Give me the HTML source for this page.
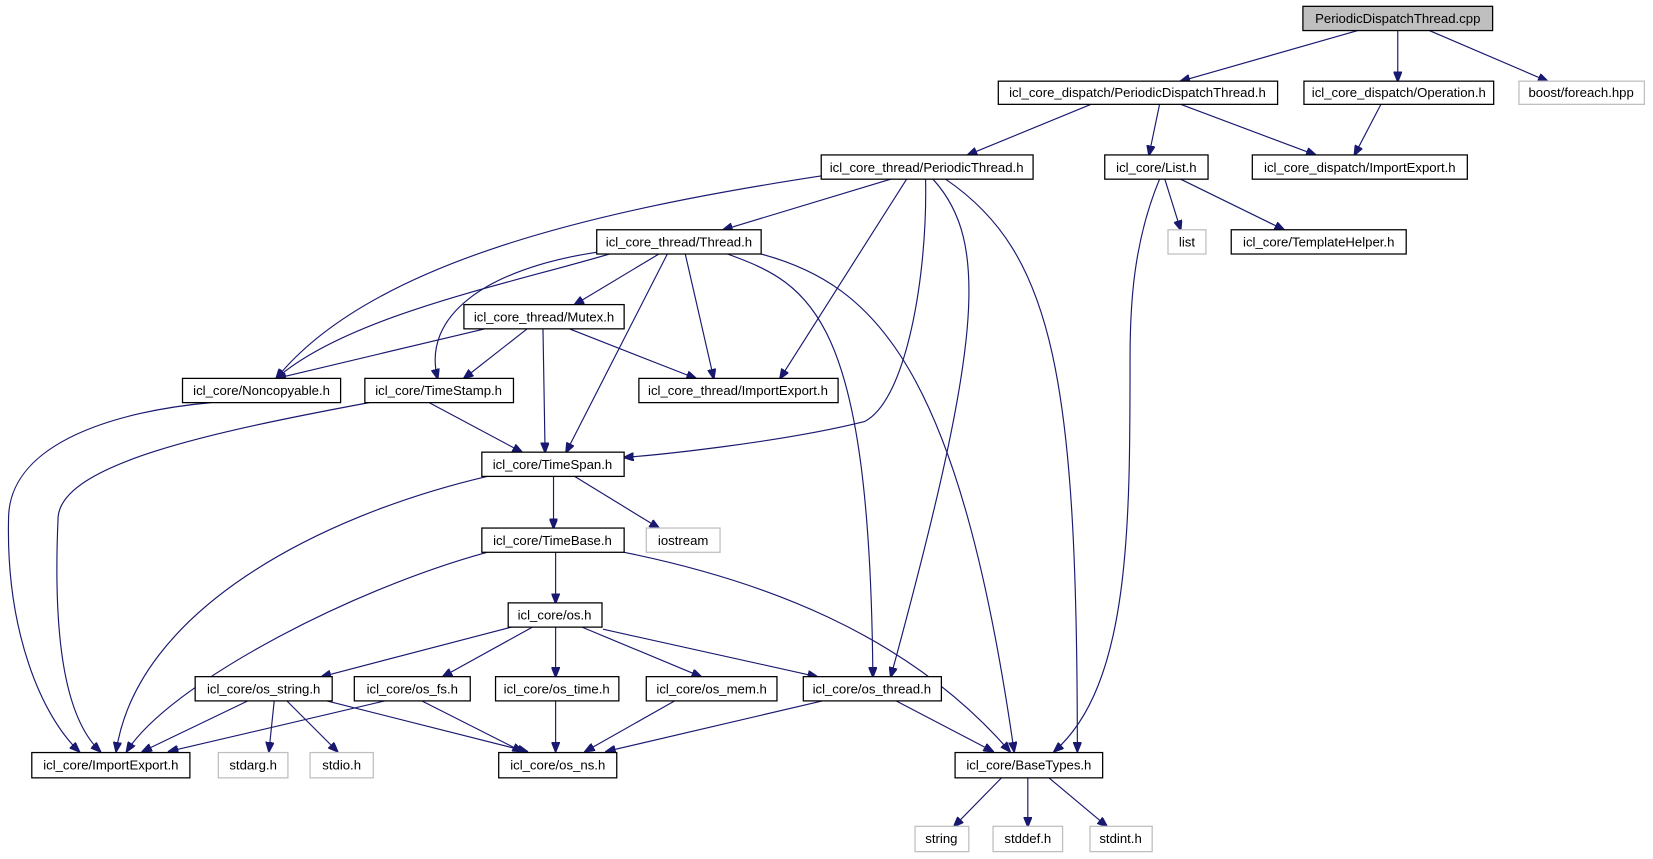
<!DOCTYPE html>
<html><head><meta charset="utf-8"><style>
html,body{margin:0;padding:0;background:#fff;}
svg{display:block}
text{font-family:"Liberation Sans",sans-serif;font-size:12.5px;fill:#000;text-anchor:middle}
.n{fill:#fff;stroke:#000;stroke-width:1.2}
.g{fill:#fff;stroke:#bfbfbf;stroke-width:1.2}
.e{fill:none;stroke:#191970;stroke-width:1.1;marker-end:url(#a)}
</style></head><body>
<svg width="1653" height="859" viewBox="0 0 1568 815" xmlns="http://www.w3.org/2000/svg">
<defs><marker id="a" markerWidth="10" markerHeight="8" refX="9" refY="4" orient="auto" markerUnits="userSpaceOnUse"><path d="M0,0 L10,4 L0,8 z" fill="#191970" stroke="#191970"/></marker></defs>
<!-- edges -->
<path class="e" d="M1288,29 L1120,77"/>
<path class="e" d="M1326,29 L1326,77"/>
<path class="e" d="M1356,29 L1468,77"/>
<path class="e" d="M1035,99 L918,147"/>
<path class="e" d="M1100,99 L1090,147"/>
<path class="e" d="M1120,99 L1248,147"/>
<path class="e" d="M1310,99 L1285,147"/>
<path class="e" d="M1105,170 L1120,218"/>
<path class="e" d="M1120,170 L1218,218"/>
<path class="e" d="M1100,170 C1075,230 1072,290 1072,340 C1072,500 1072,650 1000,713"/>
<path class="e" d="M845,170 L686,218"/>
<path class="e" d="M785,166 C560,200 350,250 262,359"/>
<path class="e" d="M860,170 L740,359"/>
<path class="e" d="M878,170 C880,260 860,380 820,400 C740,420 620,432 592,434"/>
<path class="e" d="M885,170 C940,230 930,330 845,642"/>
<path class="e" d="M897,170 C1000,240 1022,360 1022,713"/>
<path class="e" d="M578,241 C480,270 330,300 262,359"/>
<path class="e" d="M568,239 C460,255 400,300 415,359"/>
<path class="e" d="M625,241 L545,289"/>
<path class="e" d="M633,241 L537,429"/>
<path class="e" d="M650,241 L677,359"/>
<path class="e" d="M690,241 C770,270 825,300 828,642"/>
<path class="e" d="M722,241 C830,270 910,350 962,713"/>
<path class="e" d="M460,312 L262,359"/>
<path class="e" d="M500,312 L440,359"/>
<path class="e" d="M515,312 L517,429"/>
<path class="e" d="M540,312 L660,359"/>
<path class="e" d="M407,382 L495,429"/>
<path class="e" d="M350,382 C200,410 60,440 55,490 C50,600 60,680 95,713"/>
<path class="e" d="M200,382 C110,390 10,420 8,490 C5,600 40,680 75,713"/>
<path class="e" d="M525,452 L525,501"/>
<path class="e" d="M545,452 L625,501"/>
<path class="e" d="M462,452 C300,490 130,580 110,713"/>
<path class="e" d="M527,524 L527,572"/>
<path class="e" d="M462,524 C330,560 160,650 120,713"/>
<path class="e" d="M592,524 C720,550 860,600 958,713"/>
<path class="e" d="M485,595 L305,642"/>
<path class="e" d="M505,595 L420,642"/>
<path class="e" d="M527,595 L527,642"/>
<path class="e" d="M552,595 L665,642"/>
<path class="e" d="M572,597 L775,642"/>
<path class="e" d="M235,665 L135,713"/>
<path class="e" d="M260,665 L255,713"/>
<path class="e" d="M272,665 L320,713"/>
<path class="e" d="M310,665 L500,713"/>
<path class="e" d="M365,665 L160,713"/>
<path class="e" d="M400,665 L495,713"/>
<path class="e" d="M527,665 L527,713"/>
<path class="e" d="M640,665 L555,713"/>
<path class="e" d="M780,665 L575,713"/>
<path class="e" d="M850,665 L942,713"/>
<path class="e" d="M950,738 L905,784"/>
<path class="e" d="M975,738 L975,784"/>
<path class="e" d="M995,738 L1050,784"/>
<!-- nodes -->
<rect x="1236" y="6" width="180" height="23" fill="#bfbfbf" stroke="#000" stroke-width="1.2"/><text x="1326" y="22">PeriodicDispatchThread.cpp</text>
<rect class="n" x="947" y="77" width="265" height="22"/><text x="1079" y="92">icl_core_dispatch/PeriodicDispatchThread.h</text>
<rect class="n" x="1237" y="77" width="180" height="22"/><text x="1327" y="92">icl_core_dispatch/Operation.h</text>
<rect class="g" x="1441" y="77" width="119" height="22"/><text x="1500" y="92">boost/foreach.hpp</text>
<rect class="n" x="779" y="147" width="201" height="23"/><text x="879" y="163">icl_core_thread/PeriodicThread.h</text>
<rect class="n" x="1048" y="147" width="98" height="23"/><text x="1097" y="163">icl_core/List.h</text>
<rect class="n" x="1188" y="147" width="204" height="23"/><text x="1290" y="163">icl_core_dispatch/ImportExport.h</text>
<rect class="n" x="566" y="218" width="156" height="23"/><text x="644" y="234">icl_core_thread/Thread.h</text>
<rect class="g" x="1108" y="218" width="36" height="23"/><text x="1126" y="234">list</text>
<rect class="n" x="1168" y="218" width="166" height="23"/><text x="1251" y="234">icl_core/TemplateHelper.h</text>
<rect class="n" x="440" y="289" width="152" height="23"/><text x="516" y="305">icl_core_thread/Mutex.h</text>
<rect class="n" x="173" y="359" width="150" height="23"/><text x="248" y="375">icl_core/Noncopyable.h</text>
<rect class="n" x="346" y="359" width="141" height="23"/><text x="416" y="375">icl_core/TimeStamp.h</text>
<rect class="n" x="606" y="359" width="189" height="23"/><text x="700" y="375">icl_core_thread/ImportExport.h</text>
<rect class="n" x="457" y="429" width="135" height="23"/><text x="524" y="445">icl_core/TimeSpan.h</text>
<rect class="n" x="457" y="501" width="135" height="23"/><text x="524" y="517">icl_core/TimeBase.h</text>
<rect class="g" x="613" y="501" width="70" height="23"/><text x="648" y="517">iostream</text>
<rect class="n" x="482" y="572" width="89" height="23"/><text x="526" y="588">icl_core/os.h</text>
<rect class="n" x="185" y="642" width="130" height="23"/><text x="250" y="658">icl_core/os_string.h</text>
<rect class="n" x="336" y="642" width="110" height="23"/><text x="391" y="658">icl_core/os_fs.h</text>
<rect class="n" x="470" y="642" width="117" height="23"/><text x="528" y="658">icl_core/os_time.h</text>
<rect class="n" x="613" y="642" width="124" height="23"/><text x="675" y="658">icl_core/os_mem.h</text>
<rect class="n" x="762" y="642" width="131" height="23"/><text x="827" y="658">icl_core/os_thread.h</text>
<rect class="n" x="30" y="714" width="150" height="24"/><text x="105" y="730">icl_core/ImportExport.h</text>
<rect class="g" x="207" y="714" width="66" height="24"/><text x="240" y="730">stdarg.h</text>
<rect class="g" x="294" y="714" width="60" height="24"/><text x="324" y="730">stdio.h</text>
<rect class="n" x="473" y="714" width="112" height="24"/><text x="529" y="730">icl_core/os_ns.h</text>
<rect class="n" x="906" y="714" width="140" height="24"/><text x="976" y="730">icl_core/BaseTypes.h</text>
<rect class="g" x="868" y="784" width="51" height="24"/><text x="893" y="800">string</text>
<rect class="g" x="942" y="784" width="66" height="24"/><text x="975" y="800">stddef.h</text>
<rect class="g" x="1034" y="784" width="59" height="24"/><text x="1063" y="800">stdint.h</text>
</svg>
</body></html>
